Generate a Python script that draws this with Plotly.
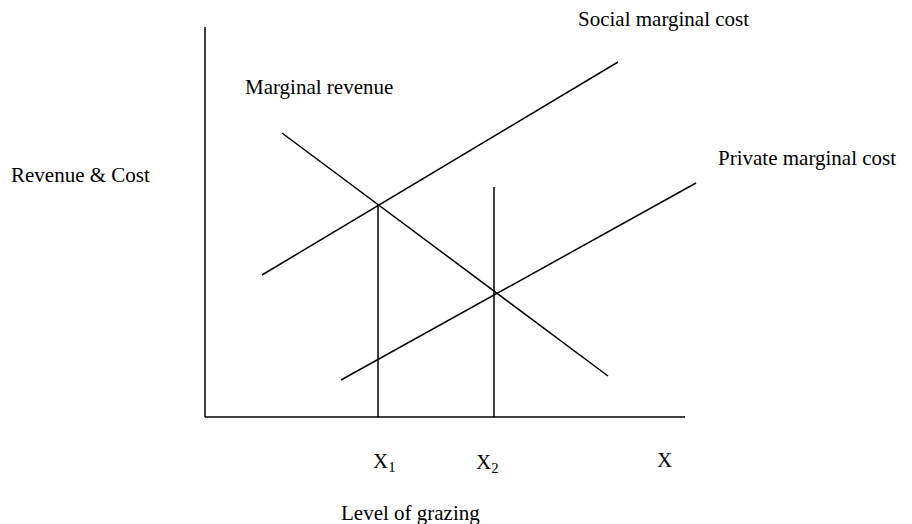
import plotly.graph_objects as go

# Diagram data in "quantity" units (origin at the axes' corner)
smc_x = [57, 413]      # Social marginal cost
smc_y = [142, 355]
mr_x = [77, 403]       # Marginal revenue
mr_y = [284, 41]
pmc_x = [136, 491]     # Private marginal cost
pmc_y = [37, 234]
x1_x = [173, 173]      # X1 drop line
x1_y = [0, 212]
x2_x = [289, 289]      # X2 drop line
x2_y = [0, 230]
yaxis_x = [0, 0]
yaxis_y = [0, 390]
xaxis_x = [0, 480]
xaxis_y = [0, 0]

FONT = "Liberation Serif, Times New Roman, serif"

fig = go.Figure()
for xs, ys in [(yaxis_x, yaxis_y), (xaxis_x, xaxis_y), (smc_x, smc_y), (mr_x, mr_y),
               (pmc_x, pmc_y), (x1_x, x1_y), (x2_x, x2_y)]:
    fig.add_trace(go.Scatter(x=xs, y=ys, mode="lines",
                             line=dict(color="black", width=1.5),
                             hoverinfo="skip", showlegend=False))

labels = [
    ("Social marginal cost", 372, 398, "left"),
    ("Marginal revenue", 39, 330, "left"),
    ("Revenue & Cost", -195, 242, "left"),
    ("Private marginal cost", 692, 259, "right"),
    ("X<sub>1</sub>", 167, -45, "left"),
    ("X<sub>2</sub>", 270, -46, "left"),
    ("X", 451, -43, "left"),
    ("Level of grazing", 135, -96, "left"),
]
for text, x, y, anchor in labels:
    fig.add_annotation(x=x, y=y, text=text, showarrow=False, xanchor=anchor,
                       yanchor="middle", borderpad=0,
                       font=dict(family=FONT, size=21, color="black"))

fig.update_layout(
    width=912, height=524,
    margin=dict(l=0, r=0, t=0, b=0),
    paper_bgcolor="white", plot_bgcolor="white",
    xaxis=dict(range=[-197, 715], visible=False, fixedrange=True),
    yaxis=dict(range=[-115, 409], visible=False, fixedrange=True),
    showlegend=False,
)
fig.write_html("out.html")
